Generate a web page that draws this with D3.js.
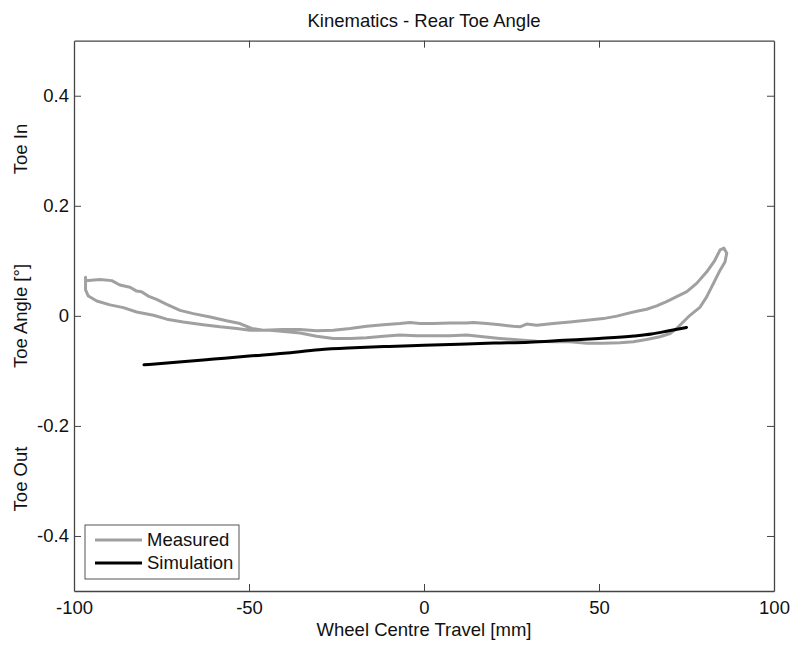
<!DOCTYPE html>
<html>
<head>
<meta charset="utf-8">
<script src="https://cdn.jsdelivr.net/npm/d3@7/dist/d3.min.js"></script>
<style>
  html, body { margin: 0; padding: 0; background: #fff; }
  svg { display: block; }
  text { font-family: "Liberation Sans", Arial, sans-serif; fill: #111; }
</style>
</head>
<body>
<svg id="chart" width="793" height="650"></svg>
<script>
// Measured toe angle loop (wheel travel mm, toe deg), traced once round the hysteresis loop
const measuredTravel = [
  -96.7, -96.7, -92.6, -89.2, -86.9, -84.0, -82.1, -80.7, -78.8, -76.4, -73.5, -69.7, -65.9, -61.1,
  -56.4, -52.6, -49.2, -45.9, -40.5, -35.4, -30.7, -25.9, -21.1, -16.4, -11.6, -6.9, -4.0, -1.1,
  2.7, 7.4, 12.2, 14.1, 17.9, 21.7, 25.5, 27.4, 29.3, 32.2, 36.9, 41.7, 46.5, 51.2, 55.1, 57.9,
  60.8, 63.6, 66.5, 69.3, 72.2, 75.1, 77.9, 80.8, 83.1, 84.6, 85.7, 86.5, 86.0, 84.6, 82.7, 80.8,
  78.9, 76.0, 73.1, 72.2, 70.3, 67.4, 63.6, 59.8, 56.0, 51.2, 46.5, 41.7, 36.9, 32.2, 27.4, 21.7,
  16.9, 12.2, 7.4, 2.7, -2.1, -6.9, -11.6, -16.4, -21.1, -25.9, -30.7, -35.4, -39.2, -44.0, -49.7,
  -53.5, -58.3, -63.1, -68.8, -73.5, -77.3, -82.1, -85.9, -89.7, -93.5, -95.9, -96.7, -96.7
];
const measuredToe = [
  0.070, 0.064, 0.066, 0.064, 0.056, 0.052, 0.045, 0.044, 0.036, 0.030, 0.021, 0.010, 0.004, -0.002,
  -0.009, -0.014, -0.023, -0.026, -0.025, -0.025, -0.027, -0.026, -0.023, -0.019, -0.016, -0.014, -0.012, -0.014,
  -0.014, -0.013, -0.013, -0.012, -0.014, -0.016, -0.019, -0.020, -0.015, -0.017, -0.014, -0.011, -0.008, -0.005, -0.0005, 0.004,
  0.0085, 0.012, 0.018, 0.026, 0.035, 0.044, 0.059, 0.080, 0.101, 0.120, 0.123, 0.114, 0.098, 0.083, 0.059, 0.035,
  0.016, 0.001, -0.017, -0.023, -0.032, -0.038, -0.043, -0.047, -0.049, -0.050, -0.050, -0.047, -0.047, -0.046, -0.044, -0.041,
  -0.038, -0.035, -0.036, -0.036, -0.036, -0.035, -0.037, -0.040, -0.041, -0.041, -0.037, -0.031, -0.029, -0.026, -0.026,
  -0.023, -0.020, -0.016, -0.011, -0.006, 0.001, 0.007, 0.015, 0.020, 0.027, 0.036, 0.047, 0.070
];

// Simulated toe angle curve
const simTravel = [-80, -70, -60, -50, -40, -30, -20, -10, 0, 10, 20, 30, 40, 50, 60, 65, 70, 75];
const simToe = [-0.089, -0.084, -0.0785, -0.073, -0.068, -0.0615, -0.058, -0.0555, -0.0535, -0.0515,
                -0.0495, -0.048, -0.0445, -0.041, -0.0365, -0.033, -0.027, -0.021];

const xTicks = [-100, -50, 0, 50, 100];
const yTicks = [-0.4, -0.2, 0, 0.2, 0.4];
const seriesNames = ["Measured", "Simulation"];
const seriesColors = ["#a0a0a0", "#000000"];

const fontSize = 18.5;
const svg = d3.select("#chart");
const plot = { left: 74, right: 774, top: 40.7, bottom: 591 };

const x = d3.scaleLinear().domain([-100, 100]).range([plot.left, plot.right]);
const y = d3.scaleLinear().domain([-0.5, 0.5]).range([plot.bottom, plot.top]);

const axisColor = "#444";
const tickLen = 7;
// plain hyphen for negative numbers
const fmtX = d => String(d);
const fmtY = d => d === 0 ? "0" : d.toFixed(1);

// Box edges with inward ticks on all four sides
const gBottom = svg.append("g").attr("transform", `translate(0,${plot.bottom})`)
  .call(d3.axisBottom(x).tickValues(xTicks).tickSizeInner(-tickLen).tickSizeOuter(0).tickPadding(10)
    .tickFormat(fmtX));
const gTop = svg.append("g").attr("transform", `translate(0,${plot.top})`)
  .call(d3.axisTop(x).tickValues(xTicks).tickSizeInner(-tickLen).tickSizeOuter(0).tickFormat(""));
const gLeft = svg.append("g").attr("transform", `translate(${plot.left},0)`)
  .call(d3.axisLeft(y).tickValues(yTicks).tickSizeInner(-tickLen).tickSizeOuter(0).tickPadding(5)
    .tickFormat(fmtY));
const gRight = svg.append("g").attr("transform", `translate(${plot.right},0)`)
  .call(d3.axisRight(y).tickValues(yTicks).tickSizeInner(-tickLen).tickSizeOuter(0).tickFormat(""));

[gBottom, gTop, gLeft, gRight].forEach(g => {
  g.select(".domain").attr("stroke", axisColor).attr("stroke-width", 1.3);
  g.selectAll(".tick line").attr("stroke", axisColor).attr("stroke-width", 1);
  g.selectAll(".tick text").attr("font-size", fontSize).attr("fill", "#111")
    .attr("font-family", "Liberation Sans, Arial, sans-serif");
});
// the end ticks of the horizontal edges coincide with the vertical edges
[gBottom, gTop].forEach(g => g.selectAll(".tick line").filter(d => d === -100 || d === 100).remove());

// Series
const line = d3.line().x(d => x(d[0])).y(d => y(d[1]));
const measured = d3.zip(measuredTravel, measuredToe);
const simulation = d3.zip(simTravel, simToe);

svg.append("path").datum(measured).attr("d", line)
  .attr("fill", "none").attr("stroke", seriesColors[0]).attr("stroke-width", 3)
  .attr("stroke-linejoin", "round").attr("stroke-linecap", "round");
svg.append("path").datum(simulation).attr("d", d3.line().curve(d3.curveMonotoneX).x(d => x(d[0])).y(d => y(d[1])))
  .attr("fill", "none").attr("stroke", seriesColors[1]).attr("stroke-width", 3)
  .attr("stroke-linecap", "round");

// Title and axis labels
svg.append("text").attr("x", 424).attr("y", 27).attr("text-anchor", "middle")
  .attr("font-size", fontSize).text("Kinematics - Rear Toe Angle");
svg.append("text").attr("x", 424).attr("y", 636).attr("text-anchor", "middle")
  .attr("font-size", fontSize).text("Wheel Centre Travel [mm]");

const yLabels = [
  { text: "Toe In", cy: 149 },
  { text: "Toe Angle [°]", cy: 316 },
  { text: "Toe Out", cy: 479 }
];
svg.selectAll(".ylab").data(yLabels).enter().append("text")
  .attr("class", "ylab")
  .attr("transform", d => `translate(27,${d.cy}) rotate(-90)`)
  .attr("text-anchor", "middle").attr("font-size", fontSize)
  .text(d => d.text);

// Legend
const legend = svg.append("g").attr("transform", "translate(85,525)");
legend.append("rect").attr("width", 154).attr("height", 54)
  .attr("fill", "#fff").attr("stroke", "#555").attr("stroke-width", 1);
seriesNames.forEach((name, i) => {
  const ly = 15 + i * 23;
  legend.append("line").attr("x1", 10).attr("x2", 57).attr("y1", ly).attr("y2", ly)
    .attr("stroke", seriesColors[i]).attr("stroke-width", 3);
  legend.append("text").attr("x", 62).attr("y", ly + 6).attr("font-size", fontSize).text(name);
});
</script>
</body>
</html>
